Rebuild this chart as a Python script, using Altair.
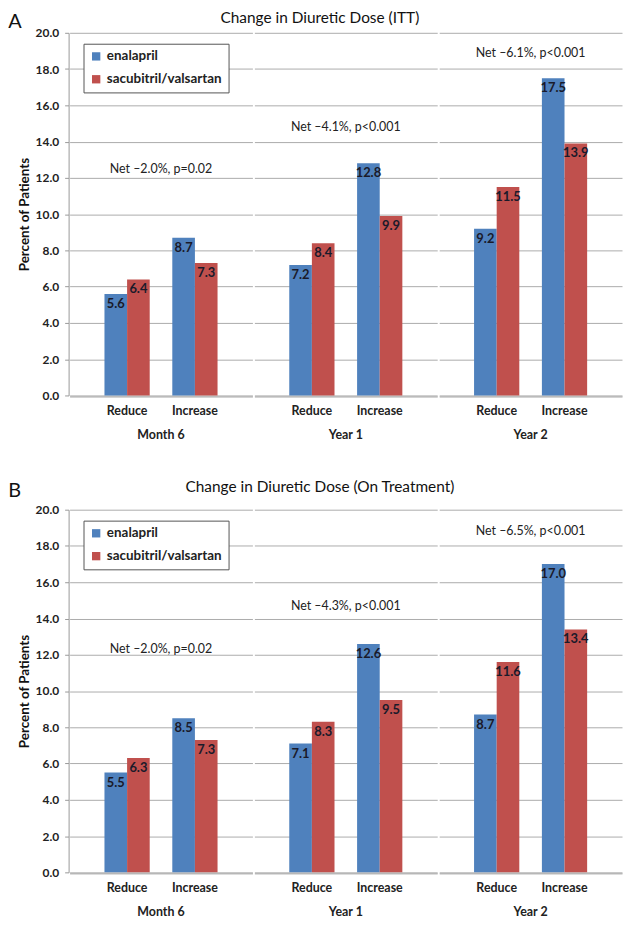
import altair as alt
import pandas as pd

periods = ["Month 6", "Year 1", "Year 2"]
changes = ["Reduce", "Increase"]
drugs = ["enalapril", "sacubitril/valsartan"]
colors = ["#4F81BD", "#C0504D"]

# values ordered: Month 6 Reduce, Month 6 Increase, Year 1 Reduce, Year 1 Increase, Year 2 Reduce, Year 2 Increase
itt_enalapril = [5.6, 8.7, 7.2, 12.8, 9.2, 17.5]
itt_sacval = [6.4, 7.3, 8.4, 9.9, 11.5, 13.9]
ot_enalapril = [5.5, 8.5, 7.1, 12.6, 8.7, 17.0]
ot_sacval = [6.3, 7.3, 8.3, 9.5, 11.6, 13.4]

itt_net = ["Net \u20132.0%, p=0.02", "Net \u20134.1%, p<0.001", "Net \u20136.1%, p<0.001"]
itt_net_y = [12.5, 14.8, 18.9]
ot_net = ["Net \u20132.0%, p=0.02", "Net \u20134.3%, p<0.001", "Net \u20136.5%, p<0.001"]
ot_net_y = [12.3, 14.7, 18.8]

FONT = "Lato"
FACET_W = 184
PLOT_H = 365
YT = "Percent of Patients"


def make_df(enal, sac, net, net_y):
    rows = []
    for i, p in enumerate(periods):
        for j, c in enumerate(changes):
            for d, vals in zip(drugs, [enal, sac]):
                rows.append(dict(period=p, change=c, drug=d, value=vals[i * 2 + j],
                                 net=net[i], net_y=net_y[i],
                                 lead=bool(j == 0 and d == drugs[0])))
    return pd.DataFrame(rows)


def panel(enal, sac, net, net_y, title, letter, title_offset, header_pad):
    df = make_df(enal, sac, net, net_y)
    x_axis = alt.Axis(labelAngle=0, ticks=False, labelFontSize=12.5,
                      labelFontWeight="bold", labelColor="#222222",
                      labelPadding=8, domainColor="#999999", grid=False)
    x_scale = alt.Scale(paddingInner=0.333, paddingOuter=0.514)
    xo_scale = alt.Scale(paddingInner=0, paddingOuter=0)
    y_scale = alt.Scale(domain=[0, 20], nice=False)
    y_axis = alt.Axis(values=list(range(0, 21, 2)), format=".1f", title=YT,
                      labelFontSize=12, labelFontWeight="bold", labelColor="#222222",
                      titleFontSize=13.5, titleFontWeight="bold", titleColor="#111111",
                      titlePadding=4, tickSize=4, labelPadding=6, labelOverlap=False,
                      gridColor="#ABABAB", domainColor="#999999", tickColor="#999999")
    x_enc = alt.X("change:N", sort=changes, title=None, scale=x_scale, axis=x_axis)
    xo_enc = alt.XOffset("drug:N", sort=drugs, scale=xo_scale)
    bars = alt.Chart().mark_bar().encode(
        x=x_enc,
        xOffset=xo_enc,
        y=alt.Y("value:Q", scale=y_scale, axis=y_axis),
        color=alt.Color("drug:N", sort=drugs,
                        scale=alt.Scale(domain=drugs, range=colors),
                        legend=alt.Legend(title=None, orient="none", legendX=14, legendY=11,
                                          strokeColor="#555555", fillColor="white",
                                          padding=6, rowPadding=8, symbolType="square",
                                          symbolSize=70, symbolStrokeWidth=0, symbolOffset=0,
                                          labelFontSize=13.5, labelFontWeight="bold",
                                          labelColor="#222222", labelFont=FONT)),
    )
    labels = alt.Chart().mark_text(baseline="top", dy=4, fontSize=13, fontWeight="bold",
                                   color="#1a1a2a").encode(
        x=x_enc,
        xOffset=xo_enc,
        y=alt.Y("value:Q", scale=y_scale, axis=y_axis),
        text=alt.Text("value:Q", format=".1f"),
    )
    annot = alt.Chart().transform_filter("datum.lead").mark_text(
        fontSize=12.5, color="#222222").encode(
        x=alt.value(FACET_W / 2),
        y=alt.Y("net_y:Q", scale=y_scale, axis=y_axis),
        text="net:N",
    )
    fc = alt.layer(bars, labels, annot, data=df).properties(
        width=FACET_W, height=PLOT_H
    ).facet(
        column=alt.Column("period:N", sort=periods,
                          header=alt.Header(labelOrient="bottom", title=None,
                                            labelFontSize=12.5, labelFontWeight="bold",
                                            labelColor="#222222", labelPadding=header_pad,
                                            labelFont=FONT)),
        spacing=0,
    ).properties(
        title=alt.TitleParams(title, fontSize=15.5, fontWeight="normal", anchor="middle",
                              frame="bounds", color="#111111", offset=title_offset, font=FONT)
    )
    return alt.vconcat(fc).properties(
        title=alt.TitleParams(letter, anchor="start", frame="bounds", fontSize=20,
                              fontWeight="normal", offset=-21, dx=-9, color="#111111",
                              font=FONT)
    )


pA = panel(itt_enalapril, itt_sacval, itt_net, itt_net_y,
           "Change in Diuretic Dose (ITT)", "A", 0, 12)
pB = panel(ot_enalapril, ot_sacval, ot_net, ot_net_y,
           "Change in Diuretic Dose (On Treatment)", "B", 8, 12)

chart = alt.vconcat(pA, pB, spacing=39).resolve_legend(color="independent").properties(
    padding=0
).configure(font=FONT).configure_view(stroke="transparent")

chart.save("out.html", embed_options={"renderer": "svg", "actions": False})
